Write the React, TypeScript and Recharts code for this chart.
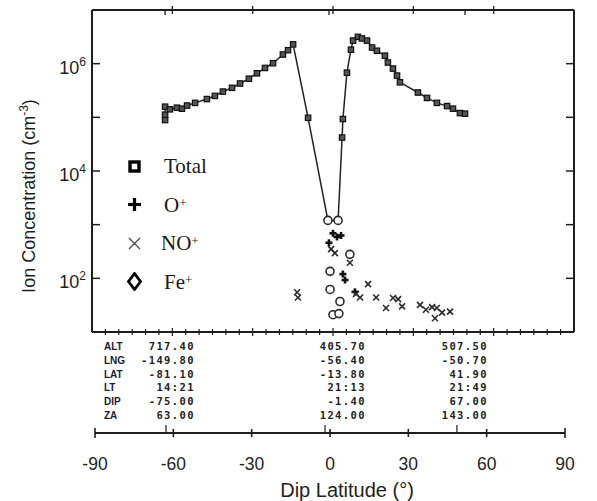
import React from 'react';
import { ComposedChart, Line, Scatter, XAxis, YAxis, Legend } from 'recharts';

// ---- data (dip latitude in degrees, concentration in cm^-3) ----
const totalDip = [-62.7, -62.7, -62.7, -60.9, -58.3, -56.4, -54.5, -51.5, -47.1, -44.1, -41.1, -37.7, -34.7, -31.4, -28.4, -25.4, -22.4, -18.7, -16.8, -14.9, -9.3, -1.9, 1.9, 3.4, 3.7, 5.2, 6.7, 7.5, 9.3, 10.8, 12.7, 14.6, 16.4, 19.4, 20.5, 22.4, 23.9, 25.0, 31.7, 35.1, 38.8, 42.6, 44.8, 47.4, 49.3];
const totalConc = [8.9e4, 1.12e5, 1.58e5, 1.41e5, 1.51e5, 1.45e5, 1.66e5, 1.86e5, 2.19e5, 2.51e5, 3.02e5, 3.55e5, 4.27e5, 5.25e5, 6.61e5, 8.32e5, 1.02e6, 1.48e6, 1.78e6, 2.29e6, 9.8e4, 1.2e3, 1.2e3, 4.2e4, 9.3e4, 6.8e5, 1.82e6, 2.69e6, 3.16e6, 2.95e6, 2.69e6, 2.0e6, 1.74e6, 1.41e6, 1.05e6, 8.1e5, 6.0e5, 4.5e5, 2.9e5, 2.3e5, 1.86e5, 1.62e5, 1.45e5, 1.2e5, 1.17e5];

const oPlusDip = [-1.5, 0, 1.5, 3.0, 3.7, 4.5, 8.2];
const oPlusConc = [460, 690, 590, 630, 120, 93, 56];

const noPlusDip = [-13.4, -13.1, -0.7, 0.7, 6.3, 8.6, 10.1, 13.1, 16.1, 19.8, 22.4, 24.3, 25.8, 32.5, 34.7, 37.0, 38.1, 38.8, 40.7, 43.7];
const noPlusConc = [55, 44, 350, 295, 195, 51, 44, 78, 44, 28, 43, 41, 30, 32, 26, 29, 18, 28, 23, 24];

const fePlusDip = [-1.9, 1.9, 6.3, -1.1, -1.1, 2.6, 0, 2.2];
const fePlusConc = [1200, 1200, 280, 135, 62, 37, 21, 22];

// ---- axes / ticks ----
const yDomain = [1e1, 1e7];
const yTicks = [1e2, 1e3, 1e4, 1e5, 1e6];
const yLabelTicks = [1e2, 1e4, 1e6];
const frameXDomain = [-90, 90];
const frameTopTicks = [-60, -30, 0, 30, 60];
const frameColumnMarks = [-62.7, -1.5, 49.3];
const frameBottomTicks = [-85, -80, -75, -70, -65, -60, -55, -50, -45, -40, -35, -30, -25, -20, -15, -10, -5, 0, 5, 10, 15, 20, 25, 30, 35, 40, 45, 50, 55, 60, 65, 70, 75, 80, 85];
const dipTicks = [-90, -60, -30, 0, 30, 60, 90];
const dipColumnMarks = [-62.8, -1.9, 48.6];
const legendOrder = ['Total', 'O+', 'NO+', 'Fe+'];

// ---- table ----
const tableRows = ['ALT', 'LNG', 'LAT', 'LT', 'DIP', 'ZA'];
const tableCol1 = ['717.40', '-149.80', '-81.10', '14:21', '-75.00', '63.00'];
const tableCol2 = ['405.70', '-56.40', '-13.80', '21:13', '-1.40', '124.00'];
const tableCol3 = ['507.50', '-50.70', '41.90', '21:49', '67.00', '143.00'];

const zip = (xs: number[], ys: number[]) => xs.map((d, i) => ({ dip: d, v: ys[i] }));
const totalData = zip(totalDip, totalConc);
const oPlusData = zip(oPlusDip, oPlusConc);
const noPlusData = zip(noPlusDip, noPlusConc);
const fePlusData = zip(fePlusDip, fePlusConc);

const SANS = 'Liberation Sans, Arial, sans-serif';
const SERIF = 'Liberation Serif, Times New Roman, serif';
const MONO = 'DejaVu Sans Mono, monospace';
const INK = '#1e1e1e';

// ---- tick renderers ----
const LeftYTick = (props: any) => {
  const { x, y, payload } = props;
  const v = payload.value;
  const p = Math.round(Math.log10(v));
  return (
    <g>
      <line x1={x} x2={x + 8} y1={y} y2={y} stroke={INK} strokeWidth={1.5} />
      {yLabelTicks.includes(v) && (
        <text x={x - 6} y={y + 10} textAnchor="end" fontSize={18} fill={INK} fontFamily={SANS}>
          10<tspan dy={-8} fontSize={12}>{p}</tspan>
        </text>
      )}
    </g>
  );
};
const RightYTick = (props: any) => {
  const { x, y } = props;
  return <line x1={x} x2={x - 8} y1={y} y2={y} stroke={INK} strokeWidth={1.5} />;
};
const TopTick = (props: any) => {
  const { x, y, payload } = props;
  if (frameColumnMarks.includes(payload.value)) {
    return <line x1={x} x2={x} y1={y} y2={y + 5} stroke={INK} strokeWidth={1.3} />;
  }
  return <line x1={x} x2={x} y1={y - 4} y2={y + 4} stroke={INK} strokeWidth={1.3} />;
};
const BottomFrameTick = (props: any) => {
  const { x, y, payload } = props;
  const h = payload.value % 30 === 0 ? 4 : 3;
  return <line x1={x} x2={x} y1={y - h} y2={y + h} stroke={INK} strokeWidth={1.2} />;
};
const DipTick = (props: any) => {
  const { x, y, payload } = props;
  const v = payload.value;
  if (dipColumnMarks.includes(v)) {
    return <line x1={x} x2={x} y1={y} y2={y - 8} stroke={INK} strokeWidth={1.2} />;
  }
  const h = Math.abs(v) === 90 ? 5 : 4;
  return (
    <g>
      <line x1={x} x2={x} y1={y - h} y2={y + h} stroke={INK} strokeWidth={1.6} />
      <text x={x} y={y + 37} textAnchor="middle" fontSize={17.5} fill={INK} fontFamily={SANS}>{v}</text>
    </g>
  );
};

// ---- markers ----
const SquareDot = (props: any) => {
  const { cx, cy, payload } = props;
  if (cx == null || cy == null) return null;
  const sharedWithFe = fePlusData.some((f) => f.dip === payload.dip && f.v === payload.v);
  if (sharedWithFe) return null;
  return <rect x={cx - 2.7} y={cy - 2.7} width={5.4} height={5.4} fill="#555" stroke="#111" strokeWidth={1.2} />;
};
const PlusMark = (props: any) => {
  const { cx, cy } = props;
  return (
    <g stroke="#111" strokeWidth={2.6}>
      <line x1={cx - 3.5} x2={cx + 3.5} y1={cy} y2={cy} />
      <line x1={cx} x2={cx} y1={cy - 3.5} y2={cy + 3.5} />
    </g>
  );
};
const XMark = (props: any) => {
  const { cx, cy } = props;
  return (
    <g stroke="#2a2a2a" strokeWidth={1.6}>
      <line x1={cx - 3} x2={cx + 3} y1={cy - 3} y2={cy + 3} />
      <line x1={cx - 3} x2={cx + 3} y1={cy + 3} y2={cy - 3} />
    </g>
  );
};
const CircleMark = (props: any) => {
  const { cx, cy } = props;
  return <circle cx={cx} cy={cy} r={4} fill="#fff" stroke="#2a2a2a" strokeWidth={1.6} />;
};

// ---- legend ----
const legendMarker = (name: string) => {
  if (name === 'Total')
    return <rect x={4} y={5} width={9} height={9} fill="none" stroke="#000" strokeWidth={3.4} />;
  if (name === 'O+')
    return (
      <g stroke="#000" strokeWidth={3.2}>
        <line x1={2} x2={15} y1={9.5} y2={9.5} />
        <line x1={8.5} x2={8.5} y1={3} y2={16} />
      </g>
    );
  if (name === 'NO+')
    return (
      <g stroke="#4a4a4a" strokeWidth={1.3}>
        <line x1={3} x2={14} y1={4} y2={15} />
        <line x1={3} x2={14} y1={15} y2={4} />
      </g>
    );
  return <path d="M8.5 1.5 L14.5 9.5 L8.5 17.5 L2.5 9.5 Z" fill="none" stroke="#000" strokeWidth={2.8} />;
};
const legendText = (name: string) => {
  if (name === 'Total') return <span>Total</span>;
  const base = name.replace('+', '');
  return (
    <span>
      {base}
      <sup style={{ fontSize: 13, verticalAlign: 'top', position: 'relative', top: -2 }}>+</sup>
    </span>
  );
};
const LegendContent = (props: any) => {
  const payload = [...(props.payload || [])].sort(
    (a: any, b: any) => legendOrder.indexOf(a.value) - legendOrder.indexOf(b.value)
  );
  return (
    <div>
      {payload.map((p: any) => (
        <div key={p.value} style={{ display: 'flex', alignItems: 'center', height: 38.5 }}>
          <svg width={18} height={19} style={{ flex: 'none' }}>{legendMarker(p.value)}</svg>
          <span
            style={{
              marginLeft: p.value === 'NO+' ? 17 : 20,
              fontFamily: SERIF,
              fontSize: 21,
              color: '#1a1a1a',
              lineHeight: '22px',
            }}
          >
            {legendText(p.value)}
          </span>
        </div>
      ))}
    </div>
  );
};

export default function App() {
  return (
    <div style={{ position: 'absolute', left: 0, top: 0, width: 597, height: 501, background: '#fff', fontFamily: SANS }}>
      <div style={{ position: 'absolute', left: 0, top: 0 }}>
        <ComposedChart width={597} height={340} margin={{ top: 9, right: 22, bottom: 7, left: 0 }}>
          <XAxis
            xAxisId="b"
            dataKey="dip"
            type="number"
            domain={frameXDomain}
            allowDataOverflow
            ticks={frameBottomTicks}
            interval={0}
            height={1}
            tickSize={0}
            tickMargin={0}
            tickLine={false}
            tick={BottomFrameTick}
            axisLine={{ stroke: INK, strokeWidth: 2 }}
          />
          <XAxis
            xAxisId="t"
            orientation="top"
            dataKey="dip"
            type="number"
            domain={frameXDomain}
            allowDataOverflow
            ticks={[...frameTopTicks, ...frameColumnMarks]}
            interval={0}
            height={1}
            tickSize={0}
            tickMargin={0}
            tickLine={false}
            tick={TopTick}
            axisLine={{ stroke: INK, strokeWidth: 2 }}
          />
          <YAxis
            yAxisId="l"
            dataKey="v"
            scale="log"
            type="number"
            domain={yDomain}
            allowDataOverflow
            ticks={yTicks}
            interval={0}
            width={92}
            tickSize={0}
            tickMargin={0}
            tickLine={false}
            tick={LeftYTick}
            axisLine={{ stroke: INK, strokeWidth: 2 }}
          />
          <YAxis
            yAxisId="r"
            orientation="right"
            dataKey="v"
            scale="log"
            type="number"
            domain={yDomain}
            allowDataOverflow
            ticks={yTicks}
            interval={0}
            width={1}
            tickSize={0}
            tickMargin={0}
            tickLine={false}
            tick={RightYTick}
            axisLine={{ stroke: INK, strokeWidth: 2 }}
          />
          <Legend
            layout="vertical"
            align="center"
            verticalAlign="middle"
            content={LegendContent}
            wrapperStyle={{ left: 126, top: 147, width: 130, height: 160 }}
          />
          <Line
            name="Total"
            xAxisId="b"
            yAxisId="l"
            data={totalData}
            dataKey="v"
            type="linear"
            stroke="#222"
            strokeWidth={1.5}
            dot={SquareDot}
            activeDot={false}
            isAnimationActive={false}
          />
          <Scatter name="O+" xAxisId="b" yAxisId="l" data={oPlusData} dataKey="v" shape={PlusMark} isAnimationActive={false} />
          <Scatter name="NO+" xAxisId="b" yAxisId="l" data={noPlusData} dataKey="v" shape={XMark} isAnimationActive={false} />
          <Scatter name="Fe+" xAxisId="b" yAxisId="l" data={fePlusData} dataKey="v" shape={CircleMark} isAnimationActive={false} />
        </ComposedChart>
      </div>

      <div style={{ position: 'absolute', left: 0, top: 420 }}>
        <ComposedChart
          width={597}
          height={81}
          data={dipTicks.map((d) => ({ dip: d }))}
          margin={{ top: 0, right: 32, bottom: 67, left: 95 }}
        >
          <XAxis
            dataKey="dip"
            type="number"
            domain={frameXDomain}
            ticks={[...dipTicks, ...dipColumnMarks]}
            interval={0}
            height={1}
            tickSize={0}
            tickMargin={0}
            tickLine={false}
            tick={DipTick}
            axisLine={{ stroke: INK, strokeWidth: 2 }}
          />
          <YAxis hide domain={[0, 1]} width={0} />
        </ComposedChart>
      </div>

      <svg width={597} height={501} style={{ position: 'absolute', left: 0, top: 0, pointerEvents: 'none' }}>
        <text transform="translate(35,196) rotate(-90)" textAnchor="middle" fontSize={18} fill={INK} fontFamily={SANS}>
          Ion Concentration (cm<tspan dy={-7} fontSize={12}>-3</tspan><tspan dy={7}>)</tspan>
        </text>
        <text x={347} y={497} textAnchor="middle" fontSize={20} fill={INK} fontFamily={SANS}>
          Dip Latitude (°)
        </text>
        {tableRows.map((r, i) => (
          <g key={r}>
            <text x={104} y={350 + i * 13.8} fontSize={10} fontWeight="bold" fill="#1c1c38" fontFamily={SANS}>
              {r}
            </text>
            <text x={195} y={350 + i * 13.8} textAnchor="end" fontSize={10.5} fontWeight="bold" letterSpacing={1.4} fill="#222" fontFamily={MONO}>
              {tableCol1[i]}
            </text>
            <text x={366} y={350 + i * 13.8} textAnchor="end" fontSize={10.5} fontWeight="bold" letterSpacing={1.4} fill="#222" fontFamily={MONO}>
              {tableCol2[i]}
            </text>
            <text x={488} y={350 + i * 13.8} textAnchor="end" fontSize={10.5} fontWeight="bold" letterSpacing={1.4} fill="#222" fontFamily={MONO}>
              {tableCol3[i]}
            </text>
          </g>
        ))}
      </svg>
    </div>
  );
}
